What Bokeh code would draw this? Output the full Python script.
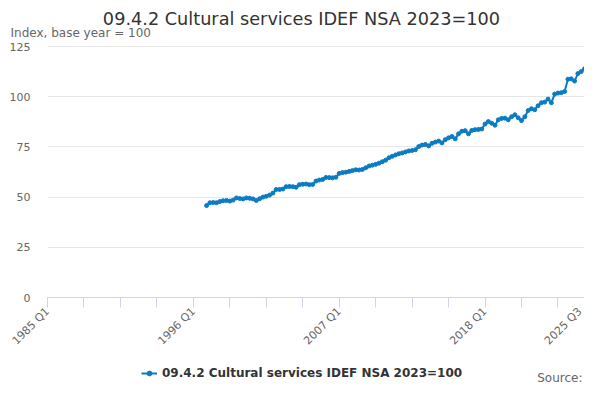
import math
from bokeh.plotting import figure
from bokeh.models import FixedTicker, Label, Legend, LegendItem, ColumnDataSource
from bokeh.embed import file_html
from bokeh.resources import INLINE

TITLE = "09.4.2 Cultural services IDEF NSA 2023=100"
SUBTITLE = "Index, base year = 100"
SERIES = "09.4.2 Cultural services IDEF NSA 2023=100"
SOURCE = "Source:"

# quarters counted from 1985 Q1 (index 0); data runs 1997 Q1 .. 2025 Q3
start_q = 48
values = [
    45.8, 47.2, 47.3, 47.2, 47.8, 48.2, 48.3, 48.0, 48.5, 49.6,
    49.3, 49.1, 49.6, 49.4, 49.1, 48.3, 49.2, 50.0, 50.4, 51.0,
    52.0, 53.8, 53.8, 54.0, 55.2, 55.3, 55.2, 54.9, 56.2, 56.4,
    56.5, 56.2, 56.3, 58.0, 58.5, 58.8, 59.8, 59.7, 59.6, 59.9,
    61.8, 62.2, 62.4, 62.8, 63.2, 63.6, 63.5, 63.8, 64.6, 65.5,
    65.9, 66.3, 66.9, 67.6, 68.4, 69.6, 70.3, 71.0, 71.6, 72.0,
    72.5, 73.0, 73.2, 73.6, 75.2, 75.9, 76.2, 75.5, 76.8, 77.4,
    77.9, 77.0, 78.6, 79.5, 80.2, 79.0, 81.5, 82.8, 83.1, 81.5,
    83.2, 83.6, 83.7, 83.9, 86.4, 87.6, 86.8, 85.8, 88.5, 89.2,
    89.3, 88.5, 90.0, 91.0, 89.5, 88.1, 90.0, 93.1, 94.0, 93.5,
    95.5, 97.0, 97.3, 98.8, 97.0, 101.3, 101.8, 102.0, 102.6, 108.7,
    108.9, 107.8, 111.5, 112.5, 113.9,
]
quarters = [start_q + i for i in range(len(values))]

x_ticks = [0, 11, 22, 33, 44, 55, 66, 77, 88, 99, 110, 121, 132, 143, 154, 162]
x_labels = {0: "1985 Q1", 44: "1996 Q1", 88: "2007 Q1", 132: "2018 Q1", 162: "2025 Q3"}
y_ticks = [0, 25, 50, 75, 100, 125]
x_min, x_max = 0, 162
y_min, y_max = 0, 125

FONT = "DejaVu Sans"
BLUE = "#0b7cc4"
W, H = 584, 384
# plot area inside the canvas (pixels): left, right, top, bottom
PL, PR, PT, PB = 47, 584, 46, 297

# the whole canvas is the frame; extend ranges so the data area sits at PL..PR, PT..PB
ux = (x_max - x_min) / (PR - PL)
uy = (y_max - y_min) / (PB - PT)
x_range = (x_min - PL * ux, x_max + (W - PR) * ux)
y_range = (y_min - (H - PB) * uy, y_max + PT * uy)

p = figure(width=W, height=H, output_backend="svg", toolbar_location=None,
           x_range=x_range, y_range=y_range, min_border=0,
           min_border_left=0, min_border_right=0, min_border_top=0, min_border_bottom=0)
p.outline_line_color = None

src = ColumnDataSource(dict(x=quarters, y=values))
r_line = p.line("x", "y", source=src, line_color=BLUE, line_width=2)
r_pts = p.scatter("x", "y", source=src, size=4, fill_color=BLUE, line_color=BLUE)

xa = p.xaxis[0]
xa.fixed_location = y_min
xa.bounds = (x_min, x_max)
xa.ticker = FixedTicker(ticks=x_ticks)
xa.major_label_overrides = {t: x_labels.get(t, "") for t in x_ticks}
xa.axis_line_color = "#ccd6eb"
xa.major_tick_line_color = "#ccd6eb"
xa.major_tick_out = 10
xa.major_tick_in = 0
xa.minor_tick_line_color = None
xa.major_label_orientation = math.pi / 4
xa.major_label_text_font = FONT
xa.major_label_text_font_size = "11px"
xa.major_label_text_color = "#666666"
xa.major_label_standoff = 2
p.xgrid.grid_line_color = None

ya = p.yaxis[0]
ya.fixed_location = x_min
ya.bounds = (y_min, y_max)
ya.ticker = FixedTicker(ticks=y_ticks)
ya.axis_line_color = None
ya.major_tick_line_color = None
ya.minor_tick_line_color = None
ya.major_tick_out = 0
ya.major_label_standoff = 17
ya.major_label_text_font = FONT
ya.major_label_text_font_size = "11px"
ya.major_label_text_color = "#666666"

yg = p.ygrid[0]
yg.ticker = FixedTicker(ticks=y_ticks)
yg.grid_line_color = "#e6e6e6"
if "cross_bounds" in yg.properties():
    yg.cross_bounds = (x_min, x_max)
else:
    yg.grid_line_color = None
    p.segment(x0=x_min, x1=x_max, y0=y_ticks[1:], y1=y_ticks[1:],
              line_color="#e6e6e6", line_width=1, level="underlay")

# texts (screen units from the canvas bottom-left, since the frame fills the canvas)
p.add_layout(Label(x=301, y=H - 18, x_units="screen", y_units="screen", text=TITLE,
                   text_align="center", text_baseline="middle", text_font=FONT,
                   text_font_size="17.7px", text_color="#333333"))
p.add_layout(Label(x=10, y=H - 32, x_units="screen", y_units="screen", text=SUBTITLE,
                   text_align="left", text_baseline="middle", text_font=FONT,
                   text_font_size="12px", text_color="#666666"))
p.add_layout(Label(x=582, y=7, x_units="screen", y_units="screen", text=SOURCE,
                   text_align="right", text_baseline="middle", text_font=FONT,
                   text_font_size="12px", text_color="#666666"))

legend = Legend(items=[LegendItem(label=SERIES, renderers=[r_line, r_pts])],
                location=(141, 4), orientation="horizontal",
                background_fill_alpha=0, border_line_color=None,
                label_text_font=FONT, label_text_font_size="12px",
                label_text_font_style="bold", label_text_color="#333333",
                glyph_width=16, glyph_height=12, padding=0, margin=0,
                label_standoff=5, spacing=0, label_height=14)
p.add_layout(legend, "center")

open("out.html", "w").write(file_html(p, INLINE))
